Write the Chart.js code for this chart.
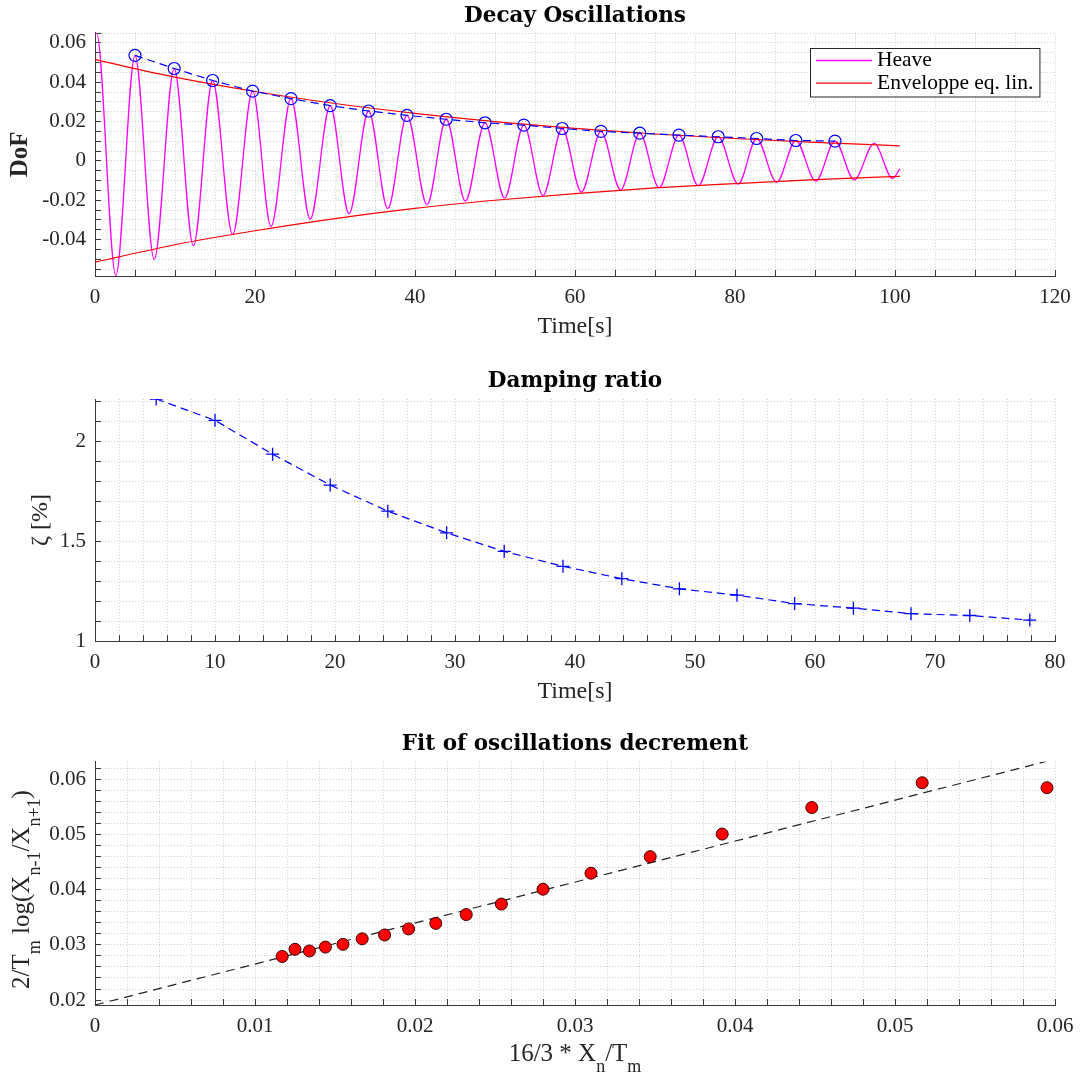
<!DOCTYPE html>
<html lang="en">
<head>
<meta charset="UTF-8">
<title>Decay Oscillations</title>
<script src="https://cdn.jsdelivr.net/npm/chart.js"></script>
<style>
    body { margin: 0; background: #fff; }
    #wrap { position: relative; width: 1080px; height: 1077px; }
    canvas { position: absolute; left: 0; }
    #c1 { top: 0; }
    #c2 { top: 352px; }
    #c3 { top: 717px; }
</style>
</head>
<body>
<div id="wrap">
    <canvas id="c1" width="1080" height="352"></canvas>
    <canvas id="c2" width="1080" height="365"></canvas>
    <canvas id="c3" width="1080" height="360"></canvas>
</div>
<script>
// ---- values ----

// heave signal, successive extrema (s, DoF)
const heaveTime = [0, 0.2, 2.6, 5.0, 7.4, 9.9, 12.3, 14.7, 17.2, 19.7, 22.0, 24.5, 26.9, 29.4, 31.75,
    34.2, 36.6, 39.0, 41.5, 43.9, 46.3, 48.75, 51.2, 53.6, 56.0, 58.4, 60.8, 63.25, 65.7, 68.1, 70.5,
    73.0, 75.4, 77.9, 80.4, 82.7, 85.2, 87.6, 90.1, 92.5, 94.9, 97.4, 99.7, 100.6];
const heaveDoF = [0.0648, 0.065, -0.0582, 0.0537, -0.0500, 0.0470, -0.0431, 0.0409, -0.0374, 0.0355, -0.0333,
    0.0317, -0.0296, 0.0281, -0.0268, 0.0254, -0.0242, 0.0232, -0.0222, 0.0212, -0.0204, 0.0194, -0.0189,
    0.0182, -0.0175, 0.0165, -0.0158, 0.0150, -0.0148, 0.0141, -0.0136, 0.0131, -0.0126, 0.0123, -0.0118,
    0.0114, -0.0108, 0.0104, -0.0103, 0.0101, -0.0096, 0.0089, -0.0089, -0.0040];

// detected peaks (blue circles)
const peakTime = [5.0, 9.9, 14.7, 19.7, 24.5, 29.4, 34.2, 39.0, 43.9, 48.75, 53.6, 58.4, 63.25, 68.1, 73.0,
    77.9, 82.7, 87.6, 92.5];
const peakDoF = [0.0537, 0.0470, 0.0409, 0.0355, 0.0317, 0.0281, 0.0254, 0.0232, 0.0212, 0.0194, 0.0182,
    0.0165, 0.0150, 0.0141, 0.0131, 0.0123, 0.0114, 0.0104, 0.0101];

// envelope of the equivalent linear system
const envTime = [0, 10, 20, 30, 40, 50, 60, 70, 80, 90, 100.6];
const envUpper = [0.0515, 0.0426, 0.0353, 0.0292, 0.0242, 0.0200, 0.0166, 0.0137, 0.0114, 0.0094, 0.0077];
const envLower = [-0.0515, -0.0426, -0.0355, -0.0293, -0.0241, -0.0200, -0.0166, -0.0137, -0.0115, -0.0095, -0.0078];

// damping ratio
const zetaTime = [5.1, 10.0, 14.8, 19.6, 24.4, 29.3, 34.1, 39.0, 43.9, 48.7, 53.5, 58.3, 63.2, 68.0, 72.9, 77.9];
const zetaPct = [2.215, 2.108, 1.938, 1.783, 1.652, 1.543, 1.450, 1.375, 1.313, 1.262, 1.230, 1.188, 1.165,
    1.137, 1.128, 1.105];

// oscillation decrement and its linear fit
const decX = [0.0117, 0.0125, 0.0134, 0.0144, 0.0155, 0.0167, 0.0181, 0.0196, 0.0213, 0.0232, 0.0254, 0.0280,
    0.0310, 0.0347, 0.0392, 0.0448, 0.0517, 0.0595];
const decY = [0.0279, 0.0292, 0.0289, 0.0296, 0.0301, 0.0311, 0.0318, 0.0329, 0.0339, 0.0355, 0.0374, 0.0401,
    0.0430, 0.0460, 0.0501, 0.0549, 0.0594, 0.0585];
const fitX = [0, 0.0595];
const fitY = [0.0191, 0.0633];

// ---- styling ----
const MAGENTA = '#ff00ff';
const RED = '#ff0000';
const BLUE = '#0000ff';
const GRID = 'rgba(38,38,38,0.22)';
const AXIS = '#3a3a3a';
const SERIF = '"Liberation Serif", "Times New Roman", serif';

Chart.defaults.font.family = SERIF;
Chart.defaults.color = '#262626';

const xy = (xs, ys) => xs.map((x, i) => ({ x: x, y: ys[i] }));
const fmt = v => String(parseFloat(v.toFixed(4)));

// linear axis, grid on minor steps, labels on major steps, ticks pointing inwards
function axis(o) {
    return {
        type: 'linear',
        position: o.position,
        min: o.min,
        max: o.max,
        grid: { color: GRID, lineWidth: 1, tickLength: -6, tickColor: AXIS, tickWidth: 1 },
        border: { color: AXIS, width: 1, dash: [1, 2] },
        ticks: {
            stepSize: o.minor,
            autoSkip: false,
            includeBounds: false,
            maxRotation: 0,
            minRotation: 0,
            padding: o.position === 'bottom' ? 16.5 : 15,
            color: '#262626',
            font: { size: 21, lineHeight: 1 },
            callback: v => {
                const r = v / o.major;
                return Math.abs(r - Math.round(r)) < 1e-6 ? fmt(v) : '';
            }
        },
        title: o.title || { display: false },
        afterFit: s => {
            if (o.position === 'bottom') s.height = o.size; else s.width = o.size;
            s.paddingLeft = s.paddingRight = s.paddingTop = s.paddingBottom = 0;
        }
    };
}

function chartTitle(text, padTop, padBottom) {
    return {
        display: true, text: text, fullSize: false, color: '#000',
        font: { family: '"DejaVu Serif", serif', size: 21.5, weight: 'bold', lineHeight: 1 },
        padding: { top: padTop, bottom: padBottom }
    };
}

// boxed legend inside the axes, top right (like MATLAB's northeast legend)
const boxLegend = {
    id: 'boxLegend',
    afterDraw(chart, args, opts) {
        const items = opts.labels.map(l => chart.data.datasets.find(d => d.label === l));
        const ctx = chart.ctx, area = chart.chartArea;
        ctx.save();
        ctx.font = '21.5px ' + SERIF;
        const textW = Math.max(...items.map(d => ctx.measureText(d.label).width));
        const w = 67 + textW + 6, h = 48.5;
        const x0 = Math.round(area.right - 16 - w), y0 = Math.round(area.top + 15);
        ctx.fillStyle = '#fff';
        ctx.fillRect(x0, y0, w, h);
        ctx.strokeStyle = '#262626';
        ctx.lineWidth = 1;
        ctx.strokeRect(x0 + 0.5, y0 + 0.5, w, h);
        items.forEach((d, i) => {
            const y = y0 + 12.5 + i * 22.7;
            ctx.strokeStyle = d.borderColor;
            ctx.lineWidth = d.borderWidth;
            ctx.beginPath();
            ctx.moveTo(x0 + 6, y);
            ctx.lineTo(x0 + 62, y);
            ctx.stroke();
            ctx.fillStyle = '#000';
            ctx.textBaseline = 'middle';
            ctx.fillText(d.label, x0 + 67, y);
        });
        ctx.restore();
    }
};

// axis titles with subscripts
function drawRich(ctx, parts, x, y, rot) {
    const main = '25px ' + SERIF, sub = '18px ' + SERIF;
    ctx.save();
    ctx.translate(x, y);
    ctx.rotate(rot);
    let total = 0;
    parts.forEach(p => { ctx.font = p[1] ? sub : main; total += ctx.measureText(p[0]).width; });
    let cx = -total / 2;
    ctx.fillStyle = '#262626';
    ctx.textBaseline = 'alphabetic';
    parts.forEach(p => {
        ctx.font = p[1] ? sub : main;
        ctx.fillText(p[0], cx, p[1] ? 11 : 0);
        cx += ctx.measureText(p[0]).width;
    });
    ctx.restore();
}

const richTitles = {
    id: 'richTitles',
    afterDraw(chart, args, opts) {
        const a = chart.chartArea;
        drawRich(chart.ctx, opts.x, (a.left + a.right) / 2, opts.xBaseline, 0);
        drawRich(chart.ctx, opts.y, opts.yBaseline, opts.yCenter, -Math.PI / 2);
    }
};

const common = {
    responsive: false,
    animation: false,
    events: [],
    layout: { padding: { left: 0, right: 25, top: 0, bottom: 0 } }
};

// ---- Decay Oscillations ----
new Chart(document.getElementById('c1'), {
    type: 'scatter',
    data: {
        datasets: [
            {
                label: 'Peaks', data: xy(peakTime, peakDoF), showLine: true,
                borderColor: BLUE, borderWidth: 1.2, borderDash: [8, 5],
                pointStyle: 'circle', pointRadius: 6, pointBorderColor: BLUE,
                pointBackgroundColor: 'rgba(0,0,0,0)', pointBorderWidth: 1.2, order: 0
            },
            {
                label: 'Enveloppe eq. lin.', data: xy(envTime, envUpper), showLine: true,
                borderColor: RED, borderWidth: 1.2, pointRadius: 0,
                cubicInterpolationMode: 'monotone', order: 1
            },
            {
                label: 'Enveloppe (lower)', data: xy(envTime, envLower), showLine: true,
                borderColor: RED, borderWidth: 1.2, pointRadius: 0,
                cubicInterpolationMode: 'monotone', order: 1
            },
            {
                label: 'Heave', data: xy(heaveTime, heaveDoF), showLine: true,
                borderColor: MAGENTA, borderWidth: 1.3, pointRadius: 0,
                cubicInterpolationMode: 'monotone', order: 2
            }
        ]
    },
    options: Object.assign({}, common, {
        plugins: {
            legend: { display: false },
            tooltip: { enabled: false },
            title: chartTitle('Decay Oscillations', 6, 5.2),
            boxLegend: { labels: ['Heave', 'Enveloppe eq. lin.'] }
        },
        scales: {
            x: axis({
                position: 'bottom', min: 0, max: 120, minor: 5, major: 20, size: 76,
                title: { display: true, text: 'Time[s]', color: '#262626',
                    font: { size: 24, lineHeight: 1 }, padding: { top: 0, bottom: 13 } }
            }),
            y: axis({
                position: 'left', min: -0.0585, max: 0.0652, minor: 0.005, major: 0.02, size: 95,
                title: { display: true, text: 'DoF', color: '#262626',
                    font: { size: 25, weight: 'bold', lineHeight: 1 }, padding: { top: 8, bottom: 0 } }
            })
        }
    }),
    plugins: [boxLegend]
});

// ---- Damping ratio ----
new Chart(document.getElementById('c2'), {
    type: 'scatter',
    data: {
        datasets: [{
            label: 'zeta', data: xy(zetaTime, zetaPct), showLine: true,
            borderColor: BLUE, borderWidth: 1.2, borderDash: [8, 5],
            pointStyle: 'cross', pointRadius: 6.5, pointBorderColor: BLUE, pointBorderWidth: 1.3
        }]
    },
    options: Object.assign({}, common, {
        plugins: {
            legend: { display: false },
            tooltip: { enabled: false },
            title: chartTitle('Damping ratio', 19, 6.5),
            
        },
        scales: {
            x: axis({
                position: 'bottom', min: 0, max: 80, minor: 2, major: 10, size: 76,
                title: { display: true, text: 'Time[s]', color: '#262626',
                    font: { size: 24, lineHeight: 1 }, padding: { top: 0, bottom: 13 } }
            }),
            y: axis({
                position: 'left', min: 1, max: 2.215, minor: 0.1, major: 0.5, size: 95,
                title: { display: true, text: 'ζ [%]', color: '#262626',
                    font: { size: 24, lineHeight: 1 }, padding: { top: 29, bottom: 0 } }
            })
        }
    })
});

// ---- Fit of oscillations decrement ----
new Chart(document.getElementById('c3'), {
    type: 'scatter',
    data: {
        datasets: [
            {
                label: 'decrement', data: xy(decX, decY),
                pointStyle: 'circle', pointRadius: 6, pointBackgroundColor: RED,
                pointBorderColor: '#3a0000', pointBorderWidth: 1, order: 0
            },
            {
                label: 'fit', data: xy(fitX, fitY), showLine: true,
                borderColor: '#222', borderWidth: 1.2, borderDash: [9, 6], pointRadius: 0, order: 1
            }
        ]
    },
    options: Object.assign({}, common, {
        plugins: {
            legend: { display: false },
            tooltip: { enabled: false },
            title: chartTitle('Fit of oscillations decrement', 17, 6.3),
            richTitles: {
                x: [['16/3 * X', 0], ['n', 1], ['/T', 0], ['m', 1]],
                xBaseline: 344,
                y: [['2/T', 0], ['m', 1], [' log(X', 0], ['n-1', 1], ['/X', 0], ['n+1', 1], [')', 0]],
                yBaseline: 29,
                yCenter: 172.5
            }
        },
        scales: {
            x: axis({ position: 'bottom', min: 0, max: 0.06, minor: 0.002, major: 0.01, size: 72 }),
            y: axis({ position: 'left', min: 0.0191, max: 0.0632, minor: 0.002, major: 0.01, size: 95 })
        }
    }),
    plugins: [richTitles]
});
</script>
</body>
</html>
